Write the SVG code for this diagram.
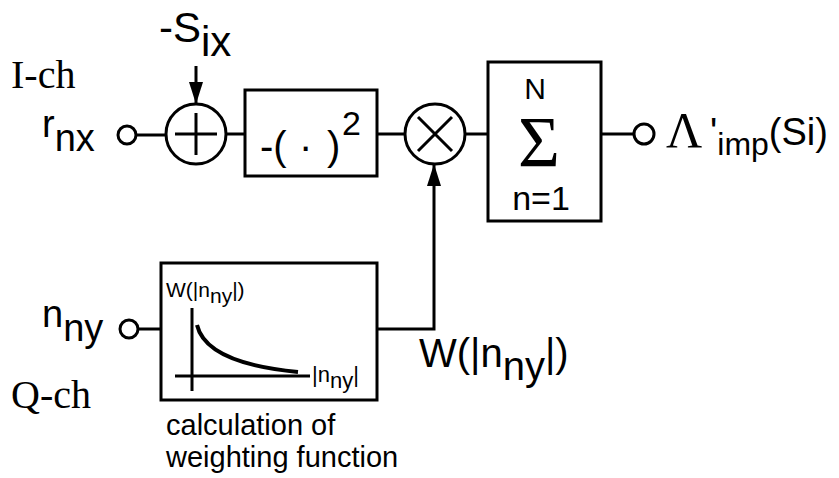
<svg xmlns="http://www.w3.org/2000/svg" width="839" height="478" viewBox="0 0 839 478">
<style>
.ln{fill:none;stroke:#000;stroke-width:3}
.sans{font-family:"Liberation Sans",Arial,sans-serif;fill:#000}
.serif{font-family:"Liberation Serif","Times New Roman",serif;fill:#000}
</style>
<defs>
<marker id="arr" viewBox="0 0 22 14" refX="22" refY="7" markerWidth="22" markerHeight="14" markerUnits="userSpaceOnUse" orient="auto">
<path d="M0,0 L22,7 L0,14 Z" fill="#000"/>
</marker>
</defs>
<rect width="839" height="478" fill="#fff"/>

<g id="labels">
<text class="serif" x="11" y="88" font-size="40">I-ch</text>
<text class="serif" x="11" y="408" font-size="40">Q-ch</text>
<text class="sans" x="42" y="137" font-size="38">r<tspan dy="14">nx</tspan></text>
<text class="sans" x="159" y="42" font-size="42">-S<tspan dy="14">ix</tspan></text>
<text class="sans" x="42" y="327" font-size="38">n<tspan dy="14">ny</tspan></text>
<text class="sans" x="419" y="367" font-size="40">W(|n<tspan dy="13">ny</tspan><tspan dy="-13">|)</tspan></text>
<text class="sans" x="166" y="435" font-size="29">calculation of</text>
<text class="sans" x="166" y="467" font-size="29">weighting function</text>
</g>

<g id="in-r">
<circle class="ln" cx="127" cy="135" r="9"/>
</g>
<g id="adder">
<circle class="ln" cx="196" cy="134" r="30"/>
<path class="ln" d="M175,134 H217 M196,113 V155"/>
</g>
<g id="square">
<rect class="ln" x="245" y="90" width="132" height="86"/>
<text class="sans" font-size="40" y="160"><tspan x="260">-(</tspan><tspan x="299">·</tspan><tspan x="327">)</tspan><tspan x="342" y="135" font-size="34">2</tspan></text>
</g>
<g id="mult">
<circle class="ln" cx="435" cy="134" r="30"/>
<path class="ln" d="M418,117 L452,151 M452,117 L418,151"/>
</g>
<g id="sum">
<rect class="ln" x="488" y="62" width="113" height="159"/>
<text class="sans" x="535" y="99" font-size="30" text-anchor="middle">N</text>
<text class="serif" x="539" y="166" font-size="72" text-anchor="middle">Σ</text>
<text class="sans" x="541" y="210" font-size="34" text-anchor="middle">n=1</text>
</g>
<g id="out">
<circle class="ln" cx="644" cy="134" r="10"/>
<text class="serif" x="666" y="147" font-size="50">Λ</text>
<text class="sans" x="710" y="145" font-size="38">'<tspan dy="10" font-size="32">imp</tspan><tspan dy="-10">(Si)</tspan></text>
</g>
<g id="in-n">
<circle class="ln" cx="129" cy="329" r="9"/>
</g>
<g id="weight">
<rect class="ln" x="161" y="263" width="216" height="137"/>
<text class="sans" x="166" y="297" font-size="21">W(|n<tspan dy="6">ny</tspan><tspan dy="-6">|)</tspan></text>
<path class="ln" d="M192,308 V391 M175,376 H310"/>
<path fill="none" stroke="#000" stroke-width="4" d="M197,325 C203,350 235,366 298,372"/>
<text class="sans" x="312" y="382" font-size="22">|n<tspan dy="6">ny</tspan><tspan dy="-6">|</tspan></text>
</g>

<g id="connectors">
<path class="ln" d="M136,135 H166"/>
<path class="ln" d="M196,66 V104" marker-end="url(#arr)"/>
<path class="ln" d="M226,134 H245"/>
<path class="ln" d="M377,134 H405"/>
<path class="ln" d="M465,134 H488"/>
<path class="ln" d="M601,134 H634"/>
<path class="ln" d="M138,329 H161"/>
<path class="ln" d="M377,329 H434 V164" marker-end="url(#arr)"/>
</g>
</svg>
